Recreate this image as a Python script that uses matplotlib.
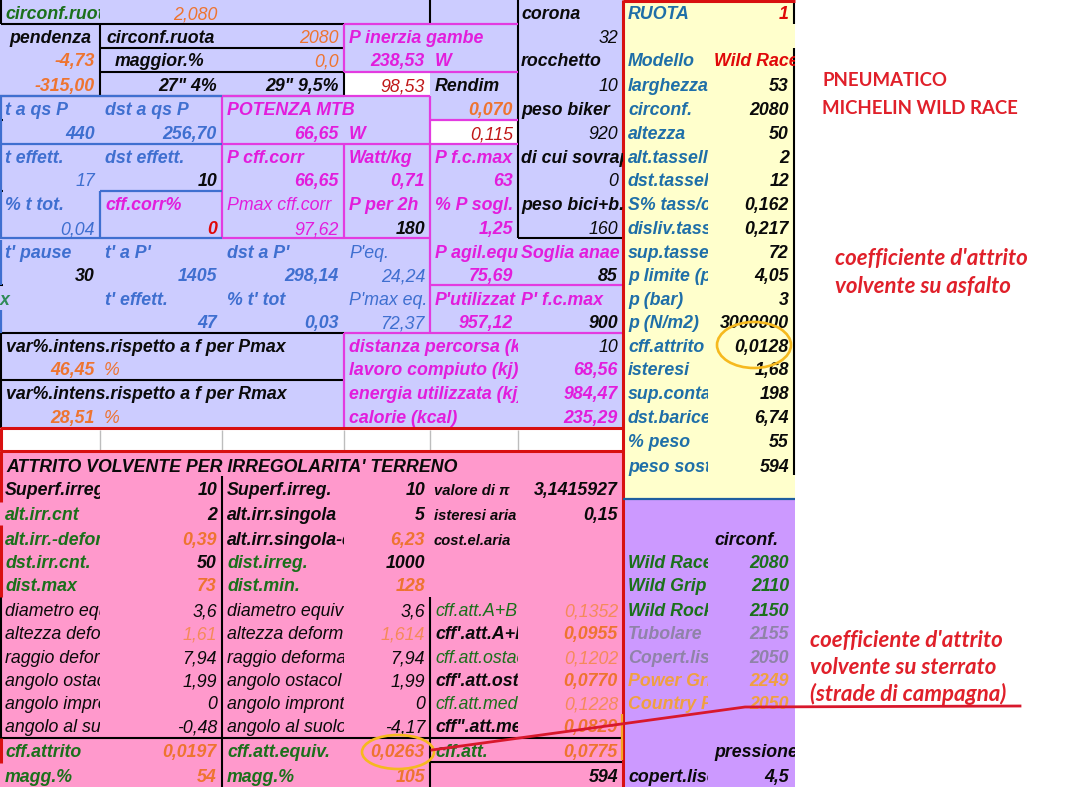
import matplotlib
matplotlib.use("Agg")
import matplotlib.pyplot as plt
from matplotlib.patches import Rectangle, Ellipse

plt.rcParams['font.family'] = ['Liberation Sans', 'DejaVu Sans']

# ---------- sheet content: (column, row, text) ----------
black_bold = [(0,1,'pendenza'),(1,1,'circonf.ruota'),(1,2,'maggior.%'),(4,3,'Rendim'),
    (5,0,'corona'),(5,2,'rocchetto'),(5,4,'peso biker'),(5,6,'di cui sovrap'),(5,8,'peso bici+b.'),
    (0,20,'Superf.irreg.'),(2,20,'Superf.irreg.'),(2,21,'alt.irr.singola'),(2,22,'alt.irr.singola-def'),
    (4,26,"cff'.att.A+B"),(4,28,"cff'.att.ost"),(4,30,'cff".att.med')]
green_bold = [(0,0,'circonf.ruota'),(0,21,'alt.irr.cnt'),(0,22,'alt.irr.-deform'),(0,23,'dst.irr.cnt.'),
    (2,23,'dist.irreg.'),(0,24,'dist.max'),(2,24,'dist.min.'),(0,31,'cff.attrito'),(2,31,'cff.att.equiv.'),
    (4,31,'cff.att.'),(0,32,'magg.%'),(2,32,'magg.%')]
blue_bold = [(0,4,'t a qs P'),(1,4,'dst a qs P'),(0,6,'t effett.'),(1,6,'dst effett.'),(0,8,'% t tot.'),
    (0,10,"t' pause"),(1,10,"t' a P'"),(2,10,"dst a P'"),(1,12,"t' effett."),(2,12,"% t' tot")]
blue_plain = [(3,10,"P'eq."),(3,12,"P'max eq.")]
magenta_bold = [(3,1,'P inerzia gambe'),(4,2,'W'),(2,4,'POTENZA MTB'),(3,5,'W'),(2,6,'P cff.corr'),
    (3,6,'Watt/kg'),(4,6,'P f.c.max'),(1,8,'cff.corr%'),(3,8,'P per 2h'),(4,8,'% P sogl.'),
    (4,10,'P agil.equ'),(5,10,'Soglia anae'),(4,12,"P'utilizzat"),(5,12,"P' f.c.max")]
magenta_plain = [(2,8,'Pmax cff.corr')]
magenta_wide = [(3,14,'distanza percorsa (km)'),(3,15,'lavoro compiuto (kj)'),
    (3,16,'energia utilizzata (kj)'),(3,17,'calorie (kcal)')]
italic_plain = [(0,25,'diametro equiv'),(2,25,'diametro equiv'),(0,26,'altezza deform'),(2,26,'altezza deform'),
    (0,27,'raggio deform'),(2,27,'raggio deforma'),(0,28,'angolo ostacolo'),(2,28,'angolo ostacol'),
    (0,29,'angolo impront'),(2,29,'angolo impront'),(0,30,'angolo al suolo'),(2,30,'angolo al suolo')]
green_plain = [(4,25,'cff.att.A+B'),(4,27,'cff.att.ostacolo'),(4,29,'cff.att.med')]
small_labels = [(21,'isteresi aria'),(20,'valore di π'),(22,'cost.el.aria')]

val_orange_bold = [(0,2,'-4,73'),(0,3,'-315,00'),(4,4,'0,070'),(0,15,'46,45'),(0,17,'28,51'),(1,22,'0,39'),(3,22,'6,23'),
    (1,24,'73'),(3,24,'128'),(5,26,'0,0955'),(5,28,'0,0770'),(5,30,'0,0829'),(1,31,'0,0197'),(3,31,'0,0263'),
    (5,31,'0,0775'),(1,32,'54'),(3,32,'105')]
val_orange_plain = [(1,0,'2,080'),(2,1,'2080'),(2,2,'0,0')]
val_orange_pale = [(1,26,'1,61'),(3,26,'1,614'),(5,25,'0,1352'),(5,27,'0,1202'),(5,29,'0,1228')]
val_black_bold = [(1,3,'27" 4%'),(2,3,'29" 9,5%'),(1,7,'10'),(3,9,'180'),(5,11,'85'),(0,11,'30'),(5,13,'900'),
    (1,20,'10'),(3,20,'10'),(5,20,'3,1415927'),(1,21,'2'),(3,21,'5'),(5,21,'0,15'),(1,23,'50'),(3,23,'1000'),(5,32,'594')]
val_black_plain = [(5,1,'32'),(5,3,'10'),(5,5,'920'),(5,7,'0'),(5,9,'160'),(5,14,'10'),
    (1,25,'3,6'),(3,25,'3,6'),(1,27,'7,94'),(3,27,'7,94'),(1,28,'1,99'),(3,28,'1,99'),
    (1,29,'0'),(3,29,'0'),(1,30,'-0,48'),(3,30,'-4,17')]
val_blue_bold = [(0,5,'440'),(1,5,'256,70'),(1,11,'1405'),(2,11,'298,14'),(1,13,'47'),(2,13,'0,03')]
val_blue_plain = [(0,7,'17'),(0,9,'0,04'),(3,11,'24,24'),(3,13,'72,37')]
val_magenta_bold = [(3,2,'238,53'),(2,5,'66,65'),(2,7,'66,65'),(3,7,'0,71'),(4,7,'63'),(4,9,'1,25'),
    (4,11,'75,69'),(4,13,'957,12'),(5,15,'68,56'),(5,16,'984,47'),(5,17,'235,29')]
val_magenta_plain = [(2,9,'97,62')]
val_red_plain = [(3,3,'98,53'),(4,5,'0,115')]
val_red_bold = [(1,9,'0')]

wheel_rows = [2,3,4,5,6,7,8,9,10,11,12,13,14,15,16,17,18,19]
wheel_labels = ['Modello','larghezza','circonf.','altezza','alt.tassello','dst.tasselli','S% tass/cop',
    'disliv.tass','sup.tasselli','p limite (p','p (bar)','p (N/m2)','cff.attrito','isteresi',
    'sup.contatto','dst.baricentro','% peso','peso sost']
wheel_values = ['Wild Race','53','2080','50','2','12','0,162','0,217','72','4,05','3','3000000',
    '0,0128','1,68','198','6,74','55','594']

tyre_rows = [23,24,25,26,27,28,29]
tyre_names = ['Wild Race','Wild Grip','Wild Rock','Tubolare','Copert.liscio','Power Grip','Country Pro']
tyre_circ = ['2080','2110','2150','2155','2050','2249','2050']
tyre_cols = ['#1b701b','#1b701b','#1b701b','#8f83a8','#8f83a8','#f0a040','#f0a040']

title_row = "ATTRITO VOLVENTE PER IRREGOLARITA' TERRENO"
note_intens = ['var%.intens.rispetto a f per Pmax','var%.intens.rispetto a f per Rmax']
note_tyre = ['PNEUMATICO','MICHELIN WILD RACE']
note_asphalt = ["coefficiente d'attrito",'volvente su asfalto']
note_gravel = ["coefficiente d'attrito",'volvente su sterrato','(strade di campagna)']

# ---------- layout ----------
EDGE = [0,100,222,344,430,518,623,708,795]
ROW = [13,37,60,85,109,133,157,180,204,228,252,275,299,322,346,369,393,417,441,466,489,
       514,539,562,585,610,633,657,680,703,726,751,776]
FS = 12.8
GREEN='#1b701b'; ORANGE='#ee7430'; PALE='#f58a5a'; BLUE='#3f6fd0'; MAG='#e21ddc'
TEAL='#1f6fa8'; DRED='#c01818'; RED='#e00808'; BLK='#0a0a0a'

fig = plt.figure(figsize=(10.88,7.87), dpi=100)
ax = fig.add_axes([0,0,1,1]); ax.set_xlim(0,1088); ax.set_ylim(787,0); ax.axis('off')

def box(x0,y0,x1,y1,c):
    ax.add_patch(Rectangle((x0,y0),x1-x0,y1-y0,fc=c,ec='none',zorder=1))
box(0,0,623,428,'#ccccff'); box(0,428,623,451,'white'); box(0,451,623,787,'#ff99cc')
box(623,0,795,498,'#ffffcc'); box(623,498,795,787,'#cc99ff')
box(345,73,430,96,'white'); box(431,121,518,144,'white')

def put(x,r,s,c,w='bold',st='italic',ha='left',clip=None,fs=FS):
    t=ax.text(x,ROW[r]+6.3,s,color=c,fontweight=w,fontstyle=st,ha=ha,va='baseline',fontsize=fs,zorder=4)
    if clip is not None:
        t.set_clip_on(True)
        t.set_clip_path(Rectangle((x-6,ROW[r]-14),clip-x+6,28,transform=ax.transData))
    return t
def lab(cells,c,w='bold'):
    for col,r,s in cells:
        put(EDGE[col]+5,r,s,c,w,clip=EDGE[col+1])
def val(cells,c,w='bold'):
    for col,r,s in cells:
        put(EDGE[col+1]-5,r,s,c,w,ha='right')

for col,r,s in black_bold:
    if s=='pendenza': put(50,r,s,BLK,ha='center')
    elif s=='maggior.%': put(115,r,s,BLK)
    elif s=='circonf.ruota': put(106,r,s,BLK)
    elif col==5: put(521,r,s,BLK,clip=623)
    else: put(EDGE[col]+5,r,s,BLK,clip=EDGE[col+1])
lab(green_bold,GREEN); lab(blue_bold,BLUE); lab(blue_plain,BLUE,'normal')
lab(magenta_plain,MAG,'normal')
for col,r,s in magenta_bold:
    if s=='P inerzia gambe': put(349,r,s,MAG)
    elif s=='POTENZA MTB': put(227,r,s,MAG)
    elif col==5: put(521,r,s,MAG,clip=623)
    else: put(EDGE[col]+5,r,s,MAG,clip=EDGE[col+1])
for col,r,s in magenta_wide: put(349,r,s,MAG,clip=518)
lab(italic_plain,BLK,'normal'); lab(green_plain,GREEN,'normal')
for r,s in small_labels: put(434,r,s,BLK,clip=518,fs=10.6)
put(0,12,'x','#2e8b57')
put(6,19,title_row,BLK)
put(6,14,note_intens[0],BLK); put(6,16,note_intens[1],BLK)
put(104,15,'%',ORANGE,'normal'); put(104,17,'%',ORANGE,'normal')

val(val_orange_bold,ORANGE); val(val_orange_plain,ORANGE,'normal'); val(val_orange_pale,PALE,'normal')
val(val_black_bold,BLK); val(val_black_plain,BLK,'normal'); val(val_blue_bold,BLUE); val(val_blue_plain,BLUE,'normal')
val(val_magenta_bold,MAG); val(val_magenta_plain,MAG,'normal'); val(val_red_plain,DRED,'normal'); val(val_red_bold,RED)

# yellow wheel panel
put(628,0,'RUOTA',TEAL); put(789,0,'1',RED,ha='right')
for r,l,v in zip(wheel_rows,wheel_labels,wheel_values):
    put(628,r,l,TEAL,clip=708)
    if v=='Wild Race': put(714,r,v,RED,clip=795)
    else: put(789,r,v,BLK,ha='right')

# purple tyre panel
put(714,22,'circonf.',BLK); put(714,31,'pressione',BLK,clip=795)
for r,n,v,c in zip(tyre_rows,tyre_names,tyre_circ,tyre_cols):
    put(628,r,n,c,clip=708); put(789,r,v,c,ha='right')
put(628,32,'copert.liscio',BLK,clip=708); put(789,32,'4,5',BLK,ha='right')

# ---------- borders ----------
def seg(c,lw,pairs):
    for x0,y0,x1,y1 in pairs:
        ax.plot([x0,x1],[y0,y1],color=c,lw=lw,solid_capstyle='butt',zorder=3)
seg('black',1.5,[(1,24,344,24),(1,0,1,24),(430,0,430,24),(100,24,100,96),(100,48,344,48),(100,72,344,72),(0,96,344,96),
    (344,72,344,96),(518,0,518,238),(518,238,623,238),(1,333,344,333),(1,380,344,380),(1,333,1,428),
    (222,476,222,787),(430,597,430,787),(0,738,623,738),(430,762,623,762),(1,597,1,738),
    (794,0,794,24),(794,48,794,475),(0,120,3,120),(0,191,3,191),(0,285,3,285)])
seg('#e33be0',1.6,[(344,24,518,24),(344,24,344,72),(344,72,518,72),(222,96,430,96),(222,96,222,238),(430,96,430,333),
    (222,144,518,144),(344,144,344,238),(430,120,518,120),(222,238,430,238),
    (430,285,623,285),(344,333,623,333),(344,333,344,428)])
seg('#3f6fd0',1.6,[(1,96,1,238),(0,96,222,96),(0,144,222,144),(100,191,222,191),(100,191,100,238),(0,238,222,238),
    (1,240,1,285),(1,310,1,333)])
seg('#bdbdbd',1,[(100,430,100,451),(222,430,222,451),(344,430,344,451),(430,430,430,451),(518,430,518,451)])
seg('#d81010',2.2,[(0,428,623,428),(0,451,623,451),(623,0,623,787),(623,1,795,1),(1,428,1,451),
    (1,451,1,502),(1,525,1,597),(1,738,1,763)])
seg('#1f5fa0',1.6,[(623,499,795,499)])
seg('#f5a623',1.6,[(622,714,622,760)])

# ---------- annotations ----------
for x,y,w,h in [(754,345,74,46),(398,752,72,34)]:
    ax.add_patch(Ellipse((x,y),w,h,fc='none',ec='#f6b91e',lw=1.9,zorder=5))
ax.plot([432,745,1020],[750,707,706],color='#d8182c',lw=2,zorder=6)
NOTE = dict(color='#e0202a',fontfamily='Lato',fontsize=16,fontweight='bold',fontstyle='italic',va='center',zorder=6)
ax.text(822,81,note_tyre[0],**{**NOTE,'fontstyle':'normal','fontsize':13.4})
ax.text(822,108,note_tyre[1],**{**NOTE,'fontstyle':'normal','fontsize':13.4})
for y,s in zip([259,286],note_asphalt): ax.text(835,y,s,**NOTE)
for y,s in zip([640,667,694],note_gravel): ax.text(810,y,s,**NOTE)

fig.savefig('out.png',dpi=100)
